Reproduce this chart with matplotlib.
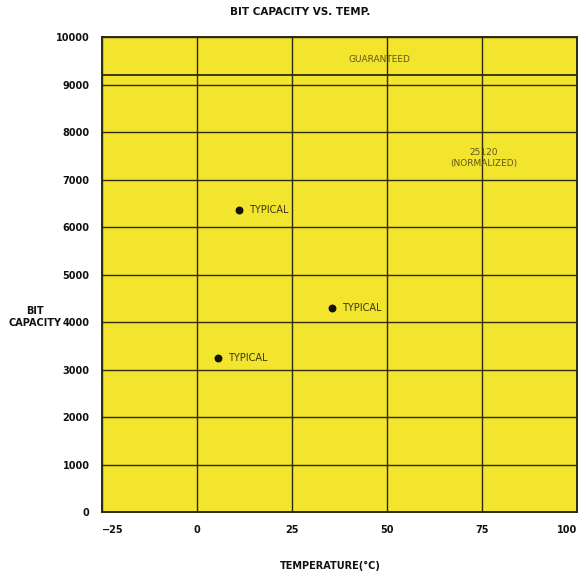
import matplotlib
matplotlib.use("Agg")
import matplotlib.pyplot as plt

# data
temp_ticks = [-25, 0, 25, 50, 75, 100]
cap_ticks = [0, 1000, 2000, 3000, 4000, 5000, 6000, 7000, 8000, 9000, 10000]
guaranteed = 9200
typical_temp = [11, 35.5, 5.5]
typical_cap = [6350, 4300, 3250]
typical_label = "TYPICAL"

YELLOW = "#f3e52e"
GRID = "#2e2a10"
TXT = "#111111"

fig = plt.figure(figsize=(5.8, 5.78), dpi=100)
ax = fig.add_axes([0.176, 0.114, 0.819, 0.822])
ax.set_facecolor(YELLOW)
ax.set_xlim(-25, 100)
ax.set_ylim(0, 10000)

ax.set_xticks(temp_ticks)
ax.set_xticklabels(["\u221225", "0", "25", "50", "75", "100"])
ax.set_yticks(cap_ticks)
ax.tick_params(length=0, labelsize=7, pad=9, colors=TXT)
for lbl in ax.get_yticklabels() + ax.get_xticklabels():
    lbl.set_fontweight("bold")
xl = ax.get_xticklabels()
xl[0].set_ha("left")
xl[-1].set_ha("right")

ax.grid(True, color=GRID, linewidth=1.0)
ax.set_axisbelow(True)
for s in ax.spines.values():
    s.set_color(GRID)
    s.set_linewidth(1.4)

# guaranteed line
ax.axhline(guaranteed, color=GRID, linewidth=1.3)
ax.text(48, 9520, "GUARANTEED", ha="center", va="center", fontsize=6.5, color="#5e5718")
ax.text(75.5, 7450, "25120\n(NORMALIZED)", ha="center", va="center",
        fontsize=6.5, color="#5e5718", linespacing=1.2)

# typical points
ax.scatter(typical_temp, typical_cap, s=22, color="#111111", zorder=3)
for t, c in zip(typical_temp, typical_cap):
    ax.annotate(typical_label, (t, c), xytext=(7, 0), textcoords="offset points",
                ha="left", va="center", fontsize=7, color="#3a3612")

fig.text(0.517, 0.979, "BIT CAPACITY VS. TEMP.", ha="center", va="center",
         fontsize=7.5, fontweight="bold", color=TXT)
fig.text(0.06, 0.452, "BIT\nCAPACITY", ha="center", va="center",
         fontsize=7, fontweight="bold", color=TXT, linespacing=1.3)
fig.text(0.57, 0.021, "TEMPERATURE(\u00b0C)", ha="center", va="center",
         fontsize=7, fontweight="bold", color=TXT)

fig.savefig("out.png", dpi=100, facecolor="white")
